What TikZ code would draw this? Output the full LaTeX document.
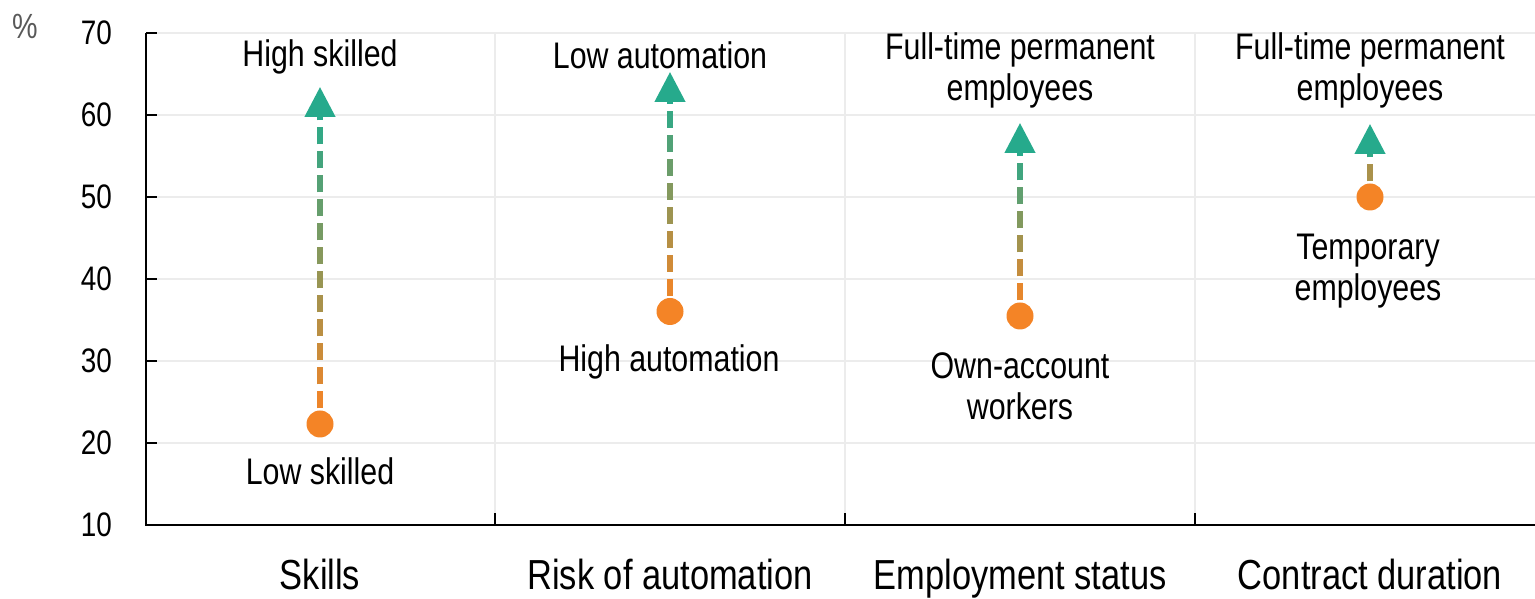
\documentclass[tikz,border=0pt]{standalone}
\usepackage{fontspec}
\setmainfont{Liberation Sans}[FakeStretch=0.82]
\usetikzlibrary{calc,shapes.geometric}
\definecolor{myorange}{RGB}{244,132,38}
\definecolor{myteal}{RGB}{38,170,140}
\definecolor{gridc}{RGB}{236,236,236}
\definecolor{pctgray}{RGB}{89,89,89}
\tikzset{
 gridline/.style={draw=gridc, line width=1.5pt},
 axisline/.style={draw=black, line width=2pt},
 ticklab/.style={anchor=east, inner sep=0pt, font=\fontsize{34}{40}\selectfont},
 catlab/.style={anchor=base, inner sep=0pt, font=\fontsize{42}{48}\selectfont},
 datalab/.style={anchor=base, inner sep=0pt, align=center, font=\fontsize{37}{41}\selectfont},
 dot/.style={circle, fill=myorange, minimum size=27pt, inner sep=0pt},
 tri/.style={regular polygon, regular polygon sides=3, fill=myteal, minimum size=36pt, inner sep=0pt, yscale=1.1, transform shape},
 dashseg/.style={line width=5.5pt},
}
\newcommand\gradline[2]{%
  \path let \p1=($(#2.south)-(#1.north)$), \n1={veclen(\x1,\y1)} in \pgfextra{\pgfmathsetmacro\gLtmp{\n1}\xdef\gL{\gLtmp}};
  \pgfmathtruncatemacro\gN{ceil((\gL-2)/24)}%
  \foreach \k in {1,...,\gN}{%
    \pgfmathsetmacro\ga{((\k-1)*24+2)/\gL}%
    \pgfmathsetmacro\gb{min((\k-1)*24+19,\gL)/\gL}%
    \pgfmathsetmacro\gm{50*(\ga+\gb)}%
    \draw[dashseg, draw=myteal!\gm!myorange] ($(#1.north)!\ga!(#2.south)$) -- ($(#1.north)!\gb!(#2.south)$);
  }%
}
\begin{document}
\begin{tikzpicture}[x=1pt,y=1pt]
\useasboundingbox (0,0) rectangle (1535,599);
% grid
\foreach \v in {20,30,40,50,60,70}{
  \draw[gridline] (146,{74+(\v-10)*8.2}) -- (1535,{74+(\v-10)*8.2});
}
\foreach \x in {495,845,1195}{
  \draw[gridline] (\x,74) -- (\x,566);
}
% axes
\draw[axisline] (146,566) -- (146,74) -- (1535,74);
\foreach \v in {20,30,40,50,60,70}{
  \draw[axisline] (146,{74+(\v-10)*8.2}) -- (157,{74+(\v-10)*8.2});
}
\foreach \x in {495,845,1195}{
  \draw[axisline] (\x,74) -- (\x,86);
}
% tick labels
\foreach \v in {10,20,30,40,50,60,70}{
  \node[ticklab] (t\v) at (112,{74+(\v-10)*8.2}) {\v};
}
\node[inner sep=0pt, text=pctgray, font=\fontsize{35}{40}\selectfont] (pct) at (25,573) {\%};
% category labels
\node[catlab] (c1) at (320,9) {Skills};
\node[catlab] (c2) at (670,9) {Risk of automation};
\node[catlab] (c3) at (1020,9) {Employment status};
\node[catlab] (c4) at (1370,9) {Contract duration};
% markers
\node[dot] (d1) at (320,175) {};
\node[tri] (u1) at (320,492) {};
\node[dot] (d2) at (670,287.5) {};
\node[tri] (u2) at (670,507) {};
\node[dot] (d3) at (1020,283) {};
\node[tri] (u3) at (1020,456) {};
\node[dot] (d4) at (1370,402) {};
\node[tri] (u4) at (1370,455) {};
\gradline{d1}{u1}
\gradline{d2}{u2}
\gradline{d3}{u3}
\gradline{d4}{u4}
% data labels
\node[datalab] (l1h) at (320,532) {High skilled};
\node[datalab] (l1l) at (320,114) {Low skilled};
\node[datalab] (l2h) at (660,530) {Low automation};
\node[datalab] (l2l) at (669,227) {High automation};
\node[datalab] (l3h) at (1020,498) {Full-time permanent\\employees};
\node[datalab] (l3l) at (1020,179) {Own-account\\workers};
\node[datalab] (l4h) at (1370,498) {Full-time permanent\\employees};
\node[datalab] (l4l) at (1368,298) {Temporary\\employees};
\end{tikzpicture}
\end{document}
